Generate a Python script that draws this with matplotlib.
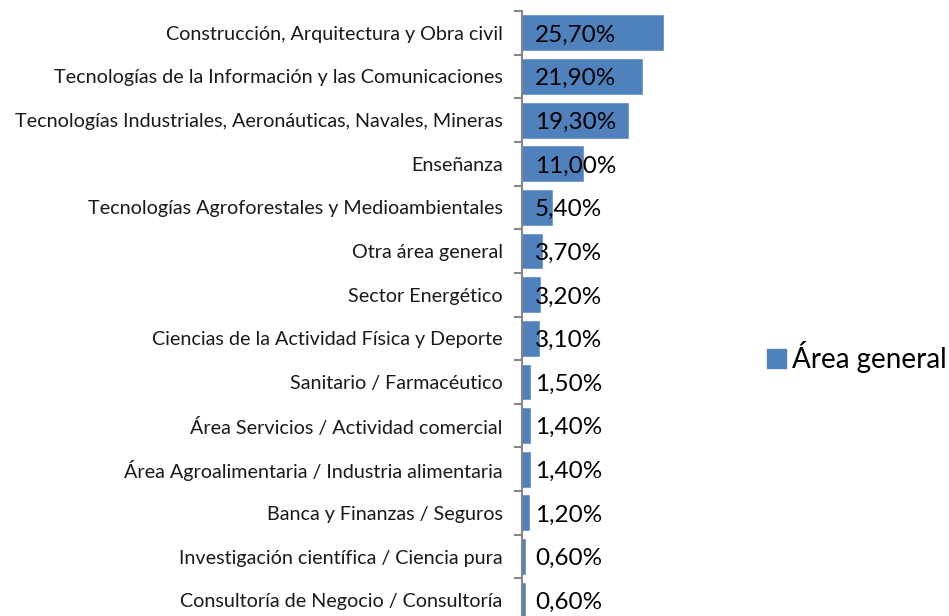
import matplotlib
matplotlib.use("Agg")
import matplotlib.pyplot as plt
from matplotlib.patches import Patch

# Data
categorias = [
    "Construcción, Arquitectura y Obra civil",
    "Tecnologías de la Información y las Comunicaciones",
    "Tecnologías Industriales, Aeronáuticas, Navales, Mineras",
    "Enseñanza",
    "Tecnologías Agroforestales y Medioambientales",
    "Otra área general",
    "Sector Energético",
    "Ciencias de la Actividad Física y Deporte",
    "Sanitario / Farmacéutico",
    "Área Servicios / Actividad comercial",
    "Área Agroalimentaria / Industria alimentaria",
    "Banca y Finanzas / Seguros",
    "Investigación científica / Ciencia pura",
    "Consultoría de Negocio / Consultoría",
]
valores = [25.7, 21.9, 19.3, 11.0, 5.4, 3.7, 3.2, 3.1, 1.5, 1.4, 1.4, 1.2, 0.6, 0.6]
etiquetas = ["25,70%", "21,90%", "19,30%", "11,00%", "5,40%", "3,70%", "3,20%",
             "3,10%", "1,50%", "1,40%", "1,40%", "1,20%", "0,60%", "0,60%"]
serie = "Área general"

W, H = 949, 616
fig = plt.figure(figsize=(W / 100, H / 100), dpi=100)

# axes in pixels: x from 522 to 742, y from 11 to 622 (cut at bottom)
x0, x1 = 522, 742
y0, y1 = 11, 622
ax = fig.add_axes([x0 / W, 1 - y1 / H, (x1 - x0) / W, (y1 - y0) / H])
px_per_unit = 5.5
ax.set_xlim(0, (x1 - x0) / px_per_unit)
ax.set_ylim(len(categorias) - 0.5, -0.5)

color = "#4F81BD"
pos = list(range(len(categorias)))
ax.barh(pos, valores, height=0.8, color=color, edgecolor="#6D95CA", linewidth=0.6)

font = ["Lato", "DejaVu Sans"]
for i, lab in enumerate(etiquetas):
    ax.text(13 / px_per_unit, i + 0.05, lab, ha="left", va="center",
            fontsize=17.5, family=font, color="black")

for s in ["top", "right", "bottom"]:
    ax.spines[s].set_visible(False)
ax.spines["left"].set_color("#868686")
ax.spines["left"].set_linewidth(1.5)
ax.set_xticks([])

# tick marks between categories
ax.set_yticks([p - 0.5 for p in pos] + [len(pos) - 0.5], minor=True)
ax.set_yticks(pos)
ax.set_yticklabels(categorias, family=font, fontsize=14.2, color="#1a1a1a")
ax.tick_params(axis="y", which="major", length=0, pad=14)
ax.tick_params(axis="y", which="minor", length=6, width=1.5, color="#868686")

leg = fig.legend(handles=[Patch(facecolor=color, edgecolor=color)], labels=[serie],
                 loc="center left", bbox_to_anchor=(767 / W, 1 - 357 / H),
                 frameon=False, handlelength=0.7, handleheight=0.7,
                 handletextpad=0.2, borderaxespad=0, borderpad=0,
                 prop={"family": font, "size": 20})

fig.savefig("out.png", dpi=100)
